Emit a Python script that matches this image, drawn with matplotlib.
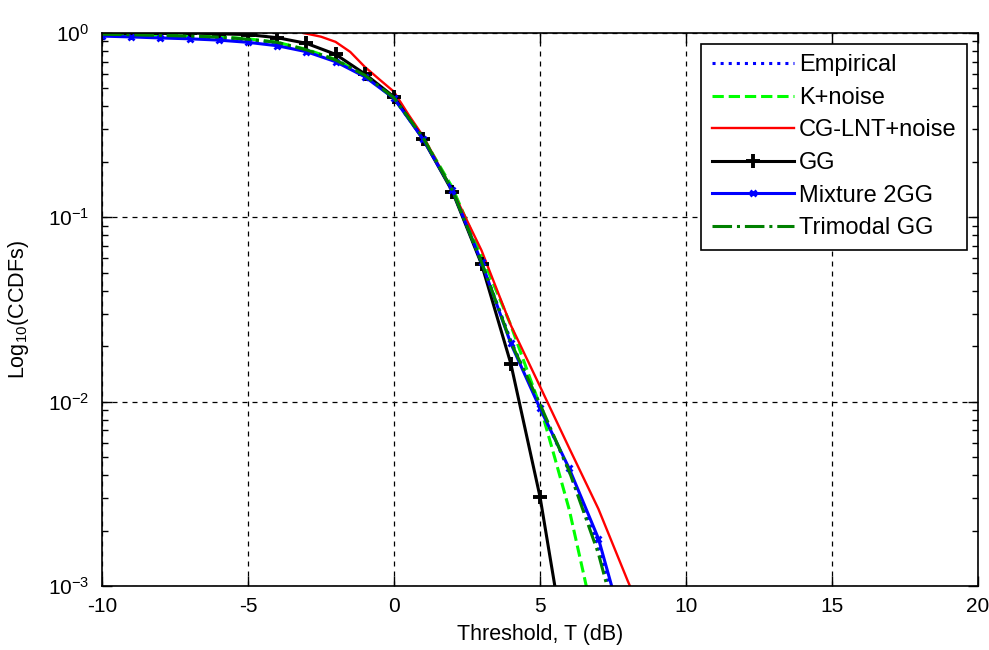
import numpy as np
import matplotlib
matplotlib.use("Agg")
import matplotlib.pyplot as plt
from matplotlib.ticker import LogLocator, NullFormatter

plt.rcParams['font.family'] = ['Liberation Sans', 'DejaVu Sans']
plt.rcParams['axes.unicode_minus'] = False
plt.rcParams['mathtext.default'] = 'regular'

# ---- data ----
x_int = [-10, -9, -8, -7, -6, -5, -4, -3, -2, -1, 0, 1, 2, 3, 4, 5, 6, 7, 8]

x_emp = [-10, -9, -8, -7, -6, -5, -4, -3, -2, -1, 0, 1, 2, 3, 4, 5, 6, 7, 7.4, 8]
y_emp = [0.972, 0.966, 0.96, 0.952, 0.94, 0.915, 0.875, 0.81, 0.715, 0.59, 0.443, 0.267, 0.14, 0.057, 0.0215,
         0.0094, 0.0042, 0.00165, 0.00098, 0.0004]

x_k = [-10, -9, -8, -7, -6, -5, -4, -3, -2, -1, 0, 1, 2, 3, 4, 5, 5.5, 6, 6.5, 7]
y_k = [0.985, 0.98, 0.975, 0.968, 0.955, 0.93, 0.89, 0.815, 0.718, 0.59, 0.44, 0.27, 0.145, 0.062, 0.026,
       0.0095, 0.0050, 0.0026, 0.00115, 0.0005]

x_cg = [-3.1, -2.5, -2, -1.5, -1, -0.5, 0, 0.5, 1, 2, 3, 4, 5, 6, 7, 8, 8.5]
y_cg = [1.0, 0.955, 0.895, 0.79, 0.655, 0.56, 0.48, 0.36, 0.275, 0.14, 0.066, 0.026, 0.0121, 0.0056,
        0.00262, 0.00107, 0.0007]

y_gg = [1.0, 1.0, 1.0, 1.0, 0.99, 0.98, 0.943, 0.879, 0.766, 0.6, 0.45, 0.265, 0.138, 0.0556, 0.0161,
        0.00305, 0.00034]

y_mix = [0.962, 0.952, 0.94, 0.93, 0.915, 0.89, 0.853, 0.792, 0.699, 0.579, 0.442, 0.265, 0.14, 0.057,
         0.0207, 0.0092, 0.00434, 0.00181, 0.00049]

x_tri = [-10, -9, -8, -7, -6, -5, -4, -3, -2, -1, 0, 1, 2, 3, 4, 5, 6, 7, 8]
y_tri = [0.985, 0.978, 0.97, 0.962, 0.95, 0.925, 0.89, 0.81, 0.714, 0.59, 0.445, 0.27, 0.14, 0.057, 0.021,
         0.0097, 0.0042, 0.0015, 0.00038]

xticks = [-10, -5, 0, 5, 10, 15, 20]

# ---- figure ----
fig = plt.figure(figsize=(9.89, 6.5), dpi=100)
ax = fig.add_axes([102/989, (650-586)/650, (978-102)/989, (586-33)/650])

ax.plot(x_emp, y_emp, color='blue', linestyle=':', lw=2.2, label='Empirical')
ax.plot(x_k, y_k, color='#00ff00', linestyle='--', lw=2.2, label='K+noise')
ax.plot(x_cg, y_cg, color='red', linestyle='-', lw=1.7, label='CG-LNT+noise')
ax.plot(x_int[:len(y_gg)], y_gg, color='black', linestyle='-', lw=2.2, marker='+', ms=10, mew=2.8,
        label='GG')
ax.plot(x_int[:len(y_mix)], y_mix, color='blue', linestyle='-', lw=2.2, marker='x', ms=5, mew=2,
        label='Mixture 2GG')
ax.plot(x_tri, y_tri, color=(0, 0.5, 0), linestyle='-.', lw=2.2, label='Trimodal GG')

ax.set_yscale('log')
ax.set_xlim(-10, 20)
ax.set_ylim(1e-3, 1)
ax.set_xticks(xticks)
ax.set_xticklabels([str(t) for t in xticks])
ax.yaxis.set_major_locator(LogLocator(base=10, numticks=10))
ax.yaxis.set_minor_locator(LogLocator(base=10, subs=np.arange(2, 10), numticks=20))
ax.yaxis.set_minor_formatter(NullFormatter())

ax.tick_params(which='both', direction='in', top=True, right=True, labelsize=15, colors='black')
ax.tick_params(which='major', length=7, width=1)
ax.tick_params(which='minor', length=4, width=1)
ax.tick_params(axis='x', pad=8)
ax.tick_params(axis='y', pad=9)
for s in ax.spines.values():
    s.set_linewidth(1.2)

ax.grid(True, which='major', color='black', linestyle=(0, (4, 4)), lw=0.9)

ax.set_xlabel('Threshold, T (dB)', fontsize=15.5, labelpad=6)
ax.set_ylabel('Log$_{10}$(CCDFs)', fontsize=15.5, labelpad=12)

leg = ax.legend(loc='upper right', fontsize=17, handlelength=3.5, handletextpad=0.2,
                labelspacing=0.45, borderpad=0.45, borderaxespad=0.45, fancybox=False,
                framealpha=1, edgecolor='black')
leg.get_frame().set_linewidth(1.2)

fig.savefig('out.png', dpi=100)
